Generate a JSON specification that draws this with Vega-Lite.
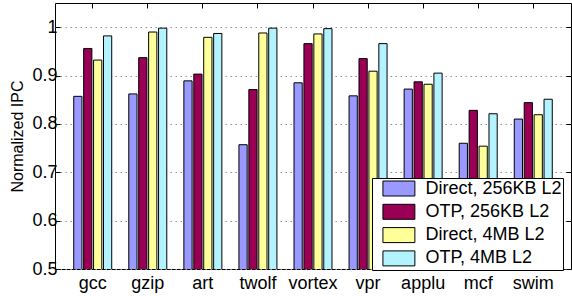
{
  "$schema": "https://vega.github.io/schema/vega-lite/v6.json",
  "width": 516,
  "height": 266,
  "autosize": "none",
  "padding": {"left": 55, "top": 3, "right": 1, "bottom": 27},
  "background": "white",
  "config": {
    "font": "Liberation Sans",
    "view": {"stroke": "black", "strokeWidth": 1},
    "axis": {"labelColor": "black", "titleColor": "black", "tickColor": "black", "domainColor": "black"}
  },
  "data": {
    "values": [
      {"bench": "gcc", "config": "Direct, 256KB L2", "ipc": 0.857},
      {"bench": "gcc", "config": "OTP, 256KB L2", "ipc": 0.956},
      {"bench": "gcc", "config": "Direct, 4MB L2", "ipc": 0.932},
      {"bench": "gcc", "config": "OTP, 4MB L2", "ipc": 0.982},
      {"bench": "gzip", "config": "Direct, 256KB L2", "ipc": 0.862},
      {"bench": "gzip", "config": "OTP, 256KB L2", "ipc": 0.937},
      {"bench": "gzip", "config": "Direct, 4MB L2", "ipc": 0.990},
      {"bench": "gzip", "config": "OTP, 4MB L2", "ipc": 0.998},
      {"bench": "art", "config": "Direct, 256KB L2", "ipc": 0.889},
      {"bench": "art", "config": "OTP, 256KB L2", "ipc": 0.903},
      {"bench": "art", "config": "Direct, 4MB L2", "ipc": 0.979},
      {"bench": "art", "config": "OTP, 4MB L2", "ipc": 0.987},
      {"bench": "twolf", "config": "Direct, 256KB L2", "ipc": 0.757},
      {"bench": "twolf", "config": "OTP, 256KB L2", "ipc": 0.871},
      {"bench": "twolf", "config": "Direct, 4MB L2", "ipc": 0.988},
      {"bench": "twolf", "config": "OTP, 4MB L2", "ipc": 0.998},
      {"bench": "vortex", "config": "Direct, 256KB L2", "ipc": 0.885},
      {"bench": "vortex", "config": "OTP, 256KB L2", "ipc": 0.966},
      {"bench": "vortex", "config": "Direct, 4MB L2", "ipc": 0.986},
      {"bench": "vortex", "config": "OTP, 4MB L2", "ipc": 0.997},
      {"bench": "vpr", "config": "Direct, 256KB L2", "ipc": 0.858},
      {"bench": "vpr", "config": "OTP, 256KB L2", "ipc": 0.935},
      {"bench": "vpr", "config": "Direct, 4MB L2", "ipc": 0.909},
      {"bench": "vpr", "config": "OTP, 4MB L2", "ipc": 0.966},
      {"bench": "applu", "config": "Direct, 256KB L2", "ipc": 0.872},
      {"bench": "applu", "config": "OTP, 256KB L2", "ipc": 0.887},
      {"bench": "applu", "config": "Direct, 4MB L2", "ipc": 0.882},
      {"bench": "applu", "config": "OTP, 4MB L2", "ipc": 0.905},
      {"bench": "mcf", "config": "Direct, 256KB L2", "ipc": 0.760},
      {"bench": "mcf", "config": "OTP, 256KB L2", "ipc": 0.828},
      {"bench": "mcf", "config": "Direct, 4MB L2", "ipc": 0.754},
      {"bench": "mcf", "config": "OTP, 4MB L2", "ipc": 0.821},
      {"bench": "swim", "config": "Direct, 256KB L2", "ipc": 0.810},
      {"bench": "swim", "config": "OTP, 256KB L2", "ipc": 0.844},
      {"bench": "swim", "config": "Direct, 4MB L2", "ipc": 0.819},
      {"bench": "swim", "config": "OTP, 4MB L2", "ipc": 0.851}
    ]
  },
  "layer": [
    {
      "mark": {"type": "bar", "stroke": "black", "strokeWidth": 1, "clip": true},
      "encoding": {
        "x": {
          "field": "bench", "type": "nominal", "sort": null,
          "scale": {"paddingInner": 0.31, "paddingOuter": 0.34},
          "axis": {"orient": "bottom", "title": null, "labelAngle": 0, "ticks": false, "domain": false, "labelFontSize": 18, "labelPadding": 5}
        },
        "xOffset": {"field": "config", "sort": null, "scale": {"paddingInner": 0.17}},
        "y": {
          "field": "ipc", "type": "quantitative",
          "scale": {"domain": [0.5, 1.05], "nice": false, "zero": false},
          "axis": {
            "orient": "left", "values": [0.5, 0.6, 0.7, 0.8, 0.9, 1], "format": ".1~f",
            "title": "Normalized IPC", "titleFontSize": 16, "titleFontWeight": "normal", "titlePadding": 6,
            "labelFontSize": 18, "tickSize": -5, "labelPadding": 3, "domain": false,
            "grid": true, "gridDash": [1.5, 3.5], "gridColor": "#909090", "gridWidth": 1
          }
        },
        "color": {
          "field": "config", "type": "nominal", "sort": null,
          "scale": {"domain": ["Direct, 256KB L2", "OTP, 256KB L2", "Direct, 4MB L2", "OTP, 4MB L2"], "range": ["#9999ff", "#990055", "#ffff99", "#b3f2ff"]},
          "legend": {
            "title": null, "orient": "none", "legendX": 317, "legendY": 175,
            "strokeColor": "black", "fillColor": "white", "padding": 1.5,
            "symbolType": "M-2.13,-1H2.13V1H-2.13Z", "symbolSize": 225,
            "symbolStrokeColor": "black", "symbolStrokeWidth": 1, "symbolOpacity": 1,
            "symbolOffset": 16.4, "labelOffset": 17.5, "labelFontSize": 18, "labelColor": "black",
            "rowPadding": 3.3
          }
        }
      }
    },
    {
      "mark": {"type": "tick", "opacity": 0},
      "encoding": {
        "x": {
          "field": "bench", "type": "nominal", "sort": null,
          "axis": {"orient": "top", "title": null, "labels": false, "tickSize": -5, "domain": false}
        },
        "y": {
          "field": "ipc", "type": "quantitative",
          "axis": {"orient": "right", "title": null, "labels": false, "values": [0.5, 0.6, 0.7, 0.8, 0.9, 1], "tickSize": -5, "domain": false, "grid": false}
        }
      }
    }
  ],
  "resolve": {"axis": {"x": "independent", "y": "independent"}}
}
